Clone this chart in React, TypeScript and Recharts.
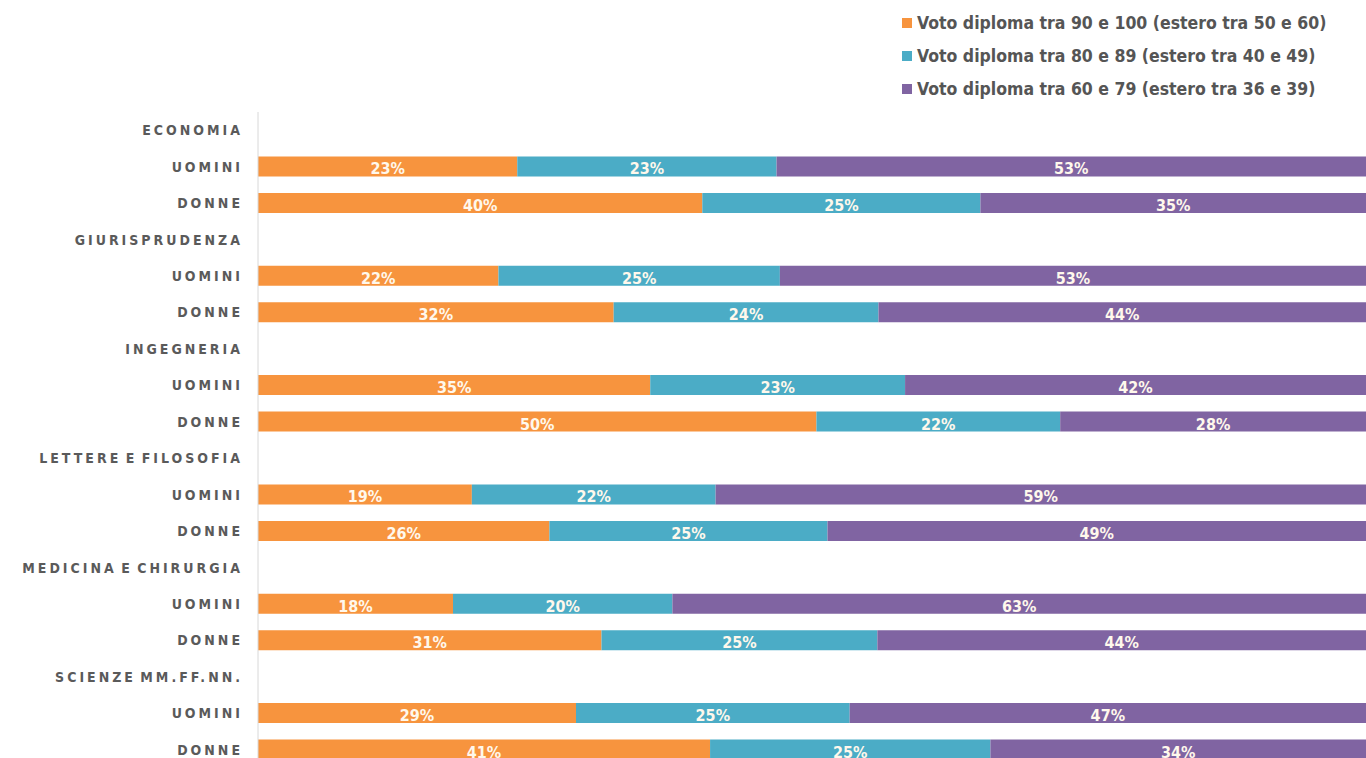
import React from 'react';
import { BarChart, Bar, XAxis, YAxis, Legend, LabelList } from 'recharts';

const rowLabels = [
  'ECONOMIA', 'UOMINI', 'DONNE',
  'GIURISPRUDENZA', 'UOMINI', 'DONNE',
  'INGEGNERIA', 'UOMINI', 'DONNE',
  'LETTERE E FILOSOFIA', 'UOMINI', 'DONNE',
  'MEDICINA E CHIRURGIA', 'UOMINI', 'DONNE',
  'SCIENZE MM.FF.NN.', 'UOMINI', 'DONNE',
];

const voto90_100 = [null, 23.4, 40.1, null, 21.7, 32.1, null, 35.4, 50.4, null, 19.3, 26.3, null, 17.6, 31.0, null, 28.7, 40.8];
const voto80_89 = [null, 23.4, 25.1, null, 25.4, 23.9, null, 23.0, 22.0, null, 22.0, 25.1, null, 19.8, 24.9, null, 24.7, 25.3];
const voto60_79 = [null, 53.2, 34.8, null, 52.9, 44.0, null, 41.6, 27.6, null, 58.7, 48.6, null, 62.6, 44.1, null, 46.6, 33.9];

const seriesKeys = ['a', 'b', 'c'];
const seriesNames = [
  'Voto diploma tra 90 e 100 (estero tra 50 e 60)',
  'Voto diploma tra 80 e 89 (estero tra 40 e 49)',
  'Voto diploma tra 60 e 79 (estero tra 36 e 39)',
];
const colors = ['#F7943E', '#4BACC6', '#8064A2'];

const data = rowLabels.map((label, i) => ({
  label,
  a: voto90_100[i],
  b: voto80_89[i],
  c: voto60_79[i],
}));

const FONT = '"DejaVu Sans Condensed", "Liberation Sans Narrow", "Roboto", sans-serif';

const BarLabel = (props: any) => {
  const { x, y, width, height, value } = props;
  if (value == null) return null;
  return (
    <text
      x={x + width / 2}
      y={y + height - 2}
      textAnchor="middle"
      fill="#FFF8EC"
      fontFamily={FONT}
      fontWeight="bold"
      fontSize={16}
    >
      {Math.round(value)}%
    </text>
  );
};

const Tick = (props: any) => {
  const { x, y, payload } = props;
  return (
    <text
      x={x - 15}
      y={y}
      dy={5}
      textAnchor="end"
      fill="#5a5a5a"
      fontFamily={FONT}
      fontWeight="bold"
      fontSize={14}
      letterSpacing={3}
      wordSpacing={-3}
    >
      {payload.value}
    </text>
  );
};

const LegendContent = () => {
  return (
    <div style={{ fontFamily: FONT, whiteSpace: 'nowrap' }}>
      {seriesKeys.map((k, i) => (
        <div key={k} style={{ display: 'flex', alignItems: 'center', height: 33 }}>
          <span style={{ display: 'inline-block', width: 10, height: 10, background: colors[i], marginRight: 5 }} />
          <span style={{ color: '#555', fontSize: 17.5, fontWeight: 'bold' }}>{seriesNames[i]}</span>
        </div>
      ))}
    </div>
  );
};

export default function App() {
  return (
    <div style={{ position: 'absolute', left: 0, top: 0, width: 1366, height: 758, overflow: 'hidden', background: '#fff' }}>
      <BarChart
        width={1366}
        height={768}
        data={data}
        layout="vertical"
        margin={{ top: 112, right: 0, bottom: 0, left: 0 }}
        barSize={20}
      >
        <XAxis type="number" domain={[0, 100]} hide />
        <YAxis
          type="category"
          dataKey="label"
          width={258}
          tickSize={0}
          tickMargin={0}
          tickLine={false}
          axisLine={{ stroke: '#d8d8d8' }}
          tick={<Tick />}
          interval={0}
        />
        <Legend
          layout="vertical"
          align="center"
          verticalAlign="middle"
          content={<LegendContent />}
          wrapperStyle={{ position: 'absolute', top: 6, left: 902, width: 464, height: 100 }}
        />
        {seriesKeys.map((k, i) => (
          <Bar key={k} dataKey={k} name={seriesNames[i]} stackId="s" fill={colors[i]} isAnimationActive={false}>
            <LabelList dataKey={k} content={<BarLabel />} />
          </Bar>
        ))}
      </BarChart>
    </div>
  );
}
